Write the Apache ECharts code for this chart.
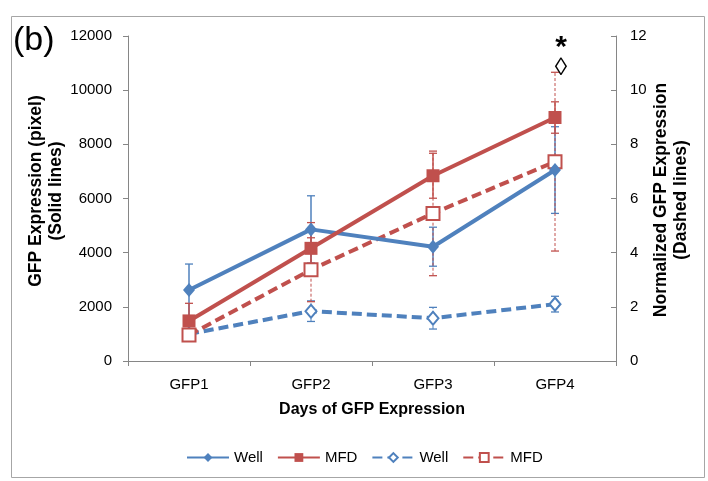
<!DOCTYPE html>
<html>
<head>
<meta charset="utf-8">
<script src="https://cdn.jsdelivr.net/npm/echarts@6/dist/echarts.min.js"></script>
<style>
  html, body { margin: 0; padding: 0; background: #fff; }
  #chart { width: 708px; height: 481px; }
</style>
</head>
<body>
<div id="chart"></div>
<script>
// 类别
const days = ['GFP1', 'GFP2', 'GFP3', 'GFP4'];

// 实线：GFP 表达量 (pixel)
const wellPixel = [2620, 4860, 4220, 7050];
const wellPixelErr = [960, 1240, 720, 1600];
const mfdPixel = [1480, 4160, 6840, 8990];
const mfdPixelErr = [650, 950, 830, 580];

// 虚线：归一化表达量
const wellNorm = [1.0, 1.84, 1.58, 2.1];
const wellNormErr = [0.12, 0.38, 0.4, 0.29];
const mfdNorm = [0.96, 3.37, 5.45, 7.36];
const mfdNormErr = [0.2, 1.18, 2.3, 3.3];

// 显著性标记 (GFP4 上方)
const marks = [
    { label: '*', at: 11560 },
    { label: '◊', at: 10800 }
];

const BLUE = '#4F81BD';
const RED = '#C0504D';
const AXIS = '#868686';
const FONT = 'Liberation Sans';

function errData(vals, errs) {
    return vals.map((v, i) => [i, v - errs[i], v + errs[i]]);
}

function errRender(color, dashed) {
    return function (params, api) {
        const x = api.value(0);
        const lo = api.coord([x, api.value(1)]);
        const hi = api.coord([x, api.value(2)]);
        const w = 4;
        const style = {
            stroke: color,
            lineWidth: dashed ? 1 : 1.5,
            lineDash: dashed ? [3, 2] : null
        };
        return {
            type: 'group',
            children: [
                { type: 'line', shape: { x1: lo[0], y1: lo[1], x2: hi[0], y2: hi[1] }, style: style },
                { type: 'line', shape: { x1: lo[0] - w, y1: lo[1], x2: lo[0] + w, y2: lo[1] }, style: { stroke: color, lineWidth: 1.3 } },
                { type: 'line', shape: { x1: hi[0] - w, y1: hi[1], x2: hi[0] + w, y2: hi[1] }, style: { stroke: color, lineWidth: 1.3 } }
            ]
        };
    };
}

const chart = echarts.init(document.getElementById('chart'), null, { renderer: 'canvas' });

const option = {
    backgroundColor: '#fff',
    animation: false,
    textStyle: { fontFamily: FONT },
    graphic: [
        {
            type: 'rect',
            shape: { x: 11.5, y: 16.5, width: 693, height: 461 },
            style: { fill: 'none', stroke: '#A6A6A6', lineWidth: 1 },
            silent: true
        },
        {
            type: 'text',
            left: 13,
            top: 24,
            style: { text: '(b)', font: '34px "Liberation Sans"', fill: '#000' }
        },
        {
            type: 'text',
            x: 46,
            y: 191,
            rotation: Math.PI / 2,
            style: {
                text: 'GFP Expression (pixel)\n(Solid lines)',
                font: 'bold 17.5px "Liberation Sans"',
                fill: '#000',
                align: 'center',
                verticalAlign: 'middle',
                lineHeight: 20
            }
        },
        {
            type: 'text',
            x: 671,
            y: 200,
            rotation: Math.PI / 2,
            style: {
                text: 'Normalized GFP Expression\n(Dashed lines)',
                font: 'bold 17.5px "Liberation Sans"',
                fill: '#000',
                align: 'center',
                verticalAlign: 'middle',
                lineHeight: 20
            }
        }
    ],
    legend: {
        left: 181,
        top: 445,
        itemWidth: 42,
        itemHeight: 11,
        itemGap: 14,
        textStyle: { fontSize: 15, color: '#000', fontFamily: FONT },
        formatter: name => name.trim(),
        data: ['Well', 'MFD', 'Well ', 'MFD ']
    },
    grid: {
        left: 128,
        right: 92,
        top: 36,
        bottom: 120
    },
    xAxis: {
        type: 'category',
        data: days,
        boundaryGap: true,
        name: 'Days of GFP Expression',
        nameLocation: 'middle',
        nameGap: 41,
        nameTextStyle: { fontSize: 16, fontWeight: 'bold', color: '#000', fontFamily: FONT },
        axisLine: { lineStyle: { color: AXIS, width: 1 } },
        axisTick: { show: true, length: 5, alignWithLabel: false, lineStyle: { color: AXIS } },
        axisLabel: { fontSize: 15, color: '#000', margin: 16, fontFamily: FONT },
        splitLine: { show: false }
    },
    yAxis: [
        {
            type: 'value',
            min: 0,
            max: 12000,
            interval: 2000,
            position: 'left',
            axisLine: { show: true, lineStyle: { color: AXIS } },
            axisTick: { show: true, length: 5, lineStyle: { color: AXIS } },
            axisLabel: { fontSize: 15, color: '#000', margin: 16, fontFamily: FONT, formatter: v => String(v) },
            splitLine: { show: false }
        },
        {
            type: 'value',
            min: 0,
            max: 12,
            interval: 2,
            position: 'right',
            axisLine: { show: true, lineStyle: { color: AXIS } },
            axisTick: { show: true, inside: true, length: 5, lineStyle: { color: AXIS } },
            axisLabel: { fontSize: 15, color: '#000', margin: 14, fontFamily: FONT },
            splitLine: { show: false }
        }
    ],
    series: [
        {
            name: 'Well',
            type: 'line',
            data: wellPixel,
            yAxisIndex: 0,
            symbol: 'diamond',
            symbolSize: [12, 14],
            color: BLUE,
            lineStyle: { width: 4, color: BLUE },
            itemStyle: { color: BLUE },
            z: 4
        },
        {
            name: 'MFD',
            type: 'line',
            data: mfdPixel,
            yAxisIndex: 0,
            symbol: 'rect',
            symbolSize: 13,
            color: RED,
            lineStyle: { width: 4, color: RED },
            itemStyle: { color: RED },
            z: 4,
            markPoint: {
                symbol: 'rect',
                symbolSize: 1,
                itemStyle: { color: 'rgba(0,0,0,0)' },
                label: {
                    show: true,
                    position: 'inside',
                    offset: [6, 0],
                    color: '#000',
                    fontFamily: FONT,
                    formatter: p => p.name
                },
                data: marks.map((m, k) => ({
                    name: m.label,
                    coord: [days.length - 1, m.at],
                    label: k === 0 ? { fontSize: 30, fontWeight: 'bold' } : { fontSize: 25 }
                }))
            }
        },
        {
            name: 'Well ',
            type: 'line',
            data: wellNorm,
            yAxisIndex: 1,
            symbol: 'emptyDiamond',
            symbolSize: [11, 13],
            color: BLUE,
            lineStyle: { width: 4, type: [10, 5], color: BLUE },
            itemStyle: { color: BLUE, borderWidth: 1.2 },
            z: 3
        },
        {
            name: 'MFD ',
            type: 'line',
            data: mfdNorm,
            yAxisIndex: 1,
            symbol: 'emptyRect',
            symbolSize: 13,
            color: RED,
            lineStyle: { width: 4, type: [10, 5], color: RED },
            itemStyle: { color: RED, borderWidth: 1.2 },
            z: 3
        },
        {
            type: 'custom',
            name: 'Well err',
            yAxisIndex: 0,
            data: errData(wellPixel, wellPixelErr),
            encode: { x: 0, y: [1, 2] },
            renderItem: errRender(BLUE, false),
            z: 2
        },
        {
            type: 'custom',
            name: 'MFD err',
            yAxisIndex: 0,
            data: errData(mfdPixel, mfdPixelErr),
            encode: { x: 0, y: [1, 2] },
            renderItem: errRender(RED, false),
            z: 2
        },
        {
            type: 'custom',
            name: 'Well norm err',
            yAxisIndex: 1,
            data: errData(wellNorm, wellNormErr),
            encode: { x: 0, y: [1, 2] },
            renderItem: errRender(BLUE, true),
            z: 2
        },
        {
            type: 'custom',
            name: 'MFD norm err',
            yAxisIndex: 1,
            data: errData(mfdNorm, mfdNormErr),
            encode: { x: 0, y: [1, 2] },
            renderItem: errRender(RED, true),
            z: 2
        }
    ]
};

chart.setOption(option);
</script>
</body>
</html>
